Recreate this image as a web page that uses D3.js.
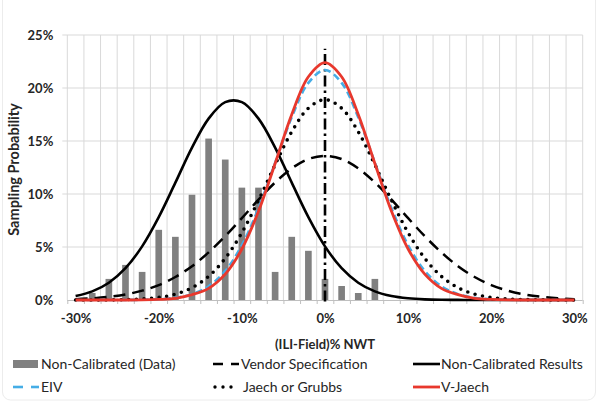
<!DOCTYPE html>
<html>
<head>
<meta charset="utf-8">
<script src="https://cdn.jsdelivr.net/npm/d3@7"></script>
<style>
  html, body { margin: 0; padding: 0; background: #fff; }
  svg { display: block; font-family: Lato, "Open Sans", sans-serif; }
</style>
</head>
<body>
<svg id="chart" width="598" height="408"></svg>
<script>
// ---------- DATA ----------
const categories = [-30,-28,-26,-24,-22,-20,-18,-16,-14,-12,-10,-8,-6,-4,-2,0,2,4,6,8,10,12,14,16,18,20,22,24,26,28,30];
const xTickLabels = [-30,-20,-10,0,10,20,30];
const yTickLabels = [0,5,10,15,20,25];

// Non-Calibrated (Data) histogram, % per category
const nonCalibratedData = [0,0.66,1.99,3.31,2.65,6.62,5.96,9.93,15.23,13.25,10.60,10.60,2.65,5.96,4.64,1.99,1.32,0.66,1.99,0,0,0,0,0,0,0,0,0,0,0,0];

// Curves at each category (%)
const vendorSpec = [0.08,0.16,0.30,0.52,0.88,1.41,2.17,3.19,4.49,6.02,7.72,9.47,11.09,12.42,13.30,13.60,13.30,12.42,11.09,9.47,7.72,6.02,4.49,3.19,2.17,1.41,0.88,0.52,0.30,0.16,0.08];
const nonCalibratedResults = [0.37,0.81,1.63,3.00,5.06,7.82,11.07,14.38,17.11,18.67,18.67,17.11,14.38,11.07,7.82,5.06,3.00,1.63,0.81,0.37,0.16,0.06,0.02,0.01,0,0,0,0,0,0,0];
const eiv = [0,0,0,0.01,0.02,0.07,0.21,0.55,1.30,2.74,5.16,8.65,12.94,17.24,20.49,21.70,20.49,17.24,12.94,8.65,5.16,2.74,1.30,0.55,0.21,0.07,0.02,0.01,0,0,0];
const jaech = [0,0,0.01,0.04,0.10,0.24,0.55,1.16,2.23,3.93,6.35,9.40,12.76,15.87,18.09,18.90,18.09,15.87,12.76,9.40,6.35,3.93,2.23,1.16,0.55,0.24,0.10,0.04,0.01,0,0];
const vJaech = [0,0,0,0,0.01,0.05,0.15,0.50,1.10,2.44,4.81,8.37,12.88,17.51,21.06,22.40,21.06,17.51,12.88,8.37,4.81,2.44,1.10,0.50,0.15,0.05,0.01,0,0,0,0];

// Reference line at 0%
const refLineX = [0,0];
const refLineY = [0,23.7];

const legendNames = ["Non-Calibrated (Data)","Vendor Specification","Non-Calibrated Results","EIV","Jaech or Grubbs","V-Jaech"];

// ---------- STYLES ----------
const styles = {
  vendor: {stroke:"#000", width:2.5, dash:"12,7", cap:"butt"},
  ncr:    {stroke:"#000", width:2.6, dash:null, cap:"butt"},
  eiv:    {stroke:"#45ADE6", width:2.6, dash:"7,4", cap:"butt"},
  jaech:  {stroke:"#000", width:3.6, dash:"0,7.6", cap:"round"},
  vj:     {stroke:"#E8382D", width:2.8, dash:null, cap:"butt"}
};

// ---------- LAYOUT ----------
const svg = d3.select("#chart");
const L = 67.3, R = 582.7, T = 35, B = 300;

const x = d3.scaleLinear().domain([-31,31]).range([L,R]);
const y = d3.scaleLinear().domain([0,25]).range([B,T]);
const xb = d3.scaleBand().domain(categories).range([L,R]).paddingInner(0.6).paddingOuter(0.3);

// border
svg.append("rect").attr("x",2.5).attr("y",-10).attr("width",593).attr("height",410)
  .attr("rx",8).attr("fill","none").attr("stroke","#ececec").attr("stroke-width",1);

// horizontal gridlines
svg.append("g").selectAll("line").data(yTickLabels.filter(d=>d>0)).join("line")
  .attr("x1",L-5).attr("x2",R).attr("y1",d=>y(d)).attr("y2",d=>y(d))
  .attr("stroke","#d9d9d9").attr("stroke-width",1);

// vertical gridlines at category boundaries
const boundaries = d3.range(-31,32,2);
svg.append("g").selectAll("line").data(boundaries).join("line")
  .attr("x1",d=>x(d)).attr("x2",d=>x(d)).attr("y1",T).attr("y2",B)
  .attr("stroke","#d9d9d9").attr("stroke-width",1);

// x axis line + tick marks (between categories)
const xTickAxis = d3.axisBottom(x).tickValues(boundaries).tickSize(4).tickFormat("");
const gx = svg.append("g").attr("transform",`translate(0,${B})`).call(xTickAxis);
gx.select(".domain").attr("stroke","#bfbfbf").attr("d",`M${L},0.5H${R}`);
gx.selectAll(".tick line").attr("stroke","#bfbfbf");

// y axis tick labels
const yAxis = d3.axisLeft(y).tickValues(yTickLabels).tickSize(0).tickPadding(14).tickFormat(d=>d+"%");
const gy = svg.append("g").attr("transform",`translate(${L},0)`).call(yAxis);
gy.select(".domain").remove();
gy.selectAll("text").attr("font-family","Lato").attr("font-size","13px").attr("font-weight","bold").attr("fill","#262626");

// x axis tick labels
const xAxis = d3.axisBottom(x).tickValues(xTickLabels).tickSize(0).tickPadding(14).tickFormat(d=>d+"%");
const gxl = svg.append("g").attr("transform",`translate(0,${B})`).call(xAxis);
gxl.select(".domain").remove();
gxl.selectAll("text").attr("font-family","Lato").attr("font-size","13px").attr("font-weight","bold").attr("fill","#262626");

// axis titles
svg.append("text").attr("transform",`translate(19,${(T+B)/2+2}) rotate(-90)`)
  .attr("text-anchor","middle").attr("font-size","14.5px").attr("font-weight","bold").attr("fill","#262626")
  .text("Sampling Probability");
svg.append("text").attr("x",325).attr("y",349).attr("text-anchor","middle")
  .attr("font-size","13px").attr("font-weight","bold").attr("fill","#262626")
  .text("(ILI-Field)% NWT");

// bars
svg.append("g").selectAll("rect").data(categories.map((c,i)=>({c,v:nonCalibratedData[i]})).filter(d=>d.v>0))
  .join("rect")
  .attr("x",d=>xb(d.c)).attr("width",xb.bandwidth())
  .attr("y",d=>y(d.v)).attr("height",d=>y(0)-y(d.v))
  .attr("fill","#808080");

// reference dash-dot line
svg.append("line")
  .attr("x1",x(refLineX[0])).attr("x2",x(refLineX[1]))
  .attr("y1",y(refLineY[0])+1.5).attr("y2",y(refLineY[1]))
  .attr("stroke","#000").attr("stroke-width",2.6).attr("stroke-dasharray","11,4,2.5,4");

const line = d3.line().x(d=>x(d[0])).y(d=>y(d[1])).curve(d3.curveCatmullRom.alpha(0.5));
function drawCurve(vals, st){
  svg.append("path").datum(categories.map((c,i)=>[c,vals[i]]))
    .attr("d",line).attr("fill","none")
    .attr("stroke",st.stroke).attr("stroke-width",st.width)
    .attr("stroke-dasharray",st.dash).attr("stroke-linecap",st.cap)
    .attr("stroke-linejoin","round");
}
drawCurve(vendorSpec, styles.vendor);
drawCurve(nonCalibratedResults, styles.ncr);
drawCurve(eiv, styles.eiv);
drawCurve(jaech, styles.jaech);
drawCurve(vJaech, styles.vj);

// legend
const colX = [13,213,413];
const rowY = [364,387];
const legendItems = [
  {name:legendNames[0], type:"bar"},
  {name:legendNames[1], type:"line", st:styles.vendor},
  {name:legendNames[2], type:"line", st:styles.ncr},
  {name:legendNames[3], type:"line", st:styles.eiv},
  {name:legendNames[4], type:"line", st:styles.jaech},
  {name:legendNames[5], type:"line", st:styles.vj}
];
const lg = svg.append("g");
legendItems.forEach((it,i)=>{
  const cx = colX[i%3], cy = rowY[Math.floor(i/3)];
  const g = lg.append("g").attr("transform",`translate(${cx},${cy})`);
  if(it.type==="bar"){
    g.append("rect").attr("x",0).attr("y",-4).attr("width",25).attr("height",8).attr("fill","#808080");
  } else if (it.st === styles.jaech){
    g.append("line").attr("x1",2).attr("x2",20).attr("y1",0).attr("y2",0)
      .attr("stroke","#000").attr("stroke-width",3.4).attr("stroke-linecap","round").attr("stroke-dasharray","0,8");
  } else if (it.st.dash){
    g.append("line").attr("x1",0).attr("x2",10).attr("y1",0).attr("y2",0)
      .attr("stroke",it.st.stroke).attr("stroke-width",it.st.width);
    g.append("line").attr("x1",18).attr("x2",26).attr("y1",0).attr("y2",0)
      .attr("stroke",it.st.stroke).attr("stroke-width",it.st.width);
  } else {
    g.append("line").attr("x1",0).attr("x2",27).attr("y1",0).attr("y2",0)
      .attr("stroke",it.st.stroke).attr("stroke-width",it.st.width);
  }
  const tx = (it.st === styles.jaech) ? 30 : 28;
  g.append("text").attr("x",tx).attr("y",0).attr("dy","0.35em")
    .attr("font-size","14px").attr("fill","#262626").text(it.name);
});
</script>
</body>
</html>
